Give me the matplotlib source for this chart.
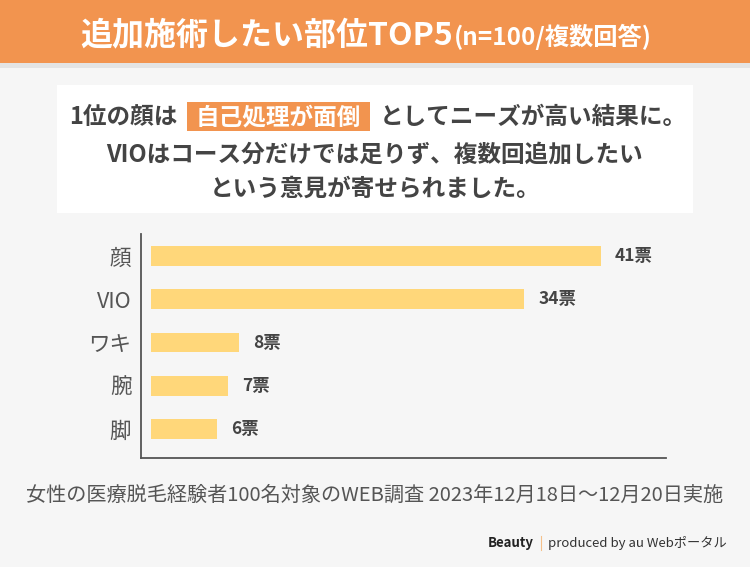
import matplotlib.pyplot as plt
from matplotlib.patches import Rectangle

plt.rcParams['font.family'] = ['Noto Sans CJK JP', 'DejaVu Sans']

# データ
parts = ['顔', 'VIO', 'ワキ', '腕', '脚']
votes = [41, 34, 8, 7, 6]
unit = '票'

title_main = '追加施術したい部位TOP5'
title_sub = '(n=100/複数回答)'
lead_before = '1位の顔は'
lead_mark = '自己処理が面倒'
lead_after = 'としてニーズが高い結果に。'
lead_2 = 'VIOはコース分だけでは足りず、複数回追加したい'
lead_3 = 'という意見が寄せられました。'
footnote = '女性の医療脱毛経験者100名対象のWEB調査 2023年12月18日～12月20日実施'
brand = 'Beauty'
credit = 'produced by au Webポータル'

orange = '#F2944F'
bar_color = '#FFD77A'
text_gray = '#444444'

fig = plt.figure(figsize=(7.5, 5.67), dpi=100)
fig.patch.set_facecolor('#F6F6F6')

# 背景用の軸 (1単位 = 1ピクセル)
bg = fig.add_axes([0, 0, 1, 1])
bg.set_xlim(0, 750)
bg.set_ylim(567, 0)
bg.axis('off')
bg.add_patch(Rectangle((0, 0), 750, 63, color=orange, lw=0))
bg.add_patch(Rectangle((0, 63), 750, 5, color='#E4E4E4', lw=0))
bg.add_patch(Rectangle((57, 85), 636, 128, color='white', lw=0))

renderer = fig.canvas.get_renderer()


def place_row(texts, xc, gaps):
    # テキストを横に並べて中央揃え
    widths = [t.get_window_extent(renderer).width for t in texts]
    total = sum(widths) + sum(gaps)
    x = xc - total / 2
    for i, (t, w) in enumerate(zip(texts, widths)):
        t.set_x(x)
        x += w + (gaps[i] if i < len(gaps) else 0)
    return widths


# タイトル
t1 = bg.text(0, 45, title_main, fontsize=23, fontweight='bold', color='white', va='baseline')
t2 = bg.text(0, 45, title_sub, fontsize=17.5, fontweight='bold', color='white', va='baseline')
place_row([t1, t2], 366, [1])

# リード文
s1 = bg.text(0, 117, lead_before, fontsize=17, fontweight='bold', color=text_gray, va='center')
s2 = bg.text(0, 117, lead_mark, fontsize=17, fontweight='bold', color='white', va='center', zorder=3)
s3 = bg.text(0, 117, lead_after, fontsize=17, fontweight='bold', color=text_gray, va='center')
w = place_row([s1, s2, s3], 378, [18, 18])
bg.add_patch(Rectangle((s2.get_position()[0] - 9, 102), w[1] + 18, 29, color=orange, lw=0, zorder=2))

bg.text(375, 154, lead_2, fontsize=17, fontweight='bold', color=text_gray, ha='center', va='center')
bg.text(375, 189, lead_3, fontsize=17, fontweight='bold', color=text_gray, ha='center', va='center')

# 注記
bg.text(375, 495, footnote, fontsize=14.5, color='#555555', ha='center', va='center')
bg.text(534, 543, brand, fontsize=9.5, fontweight='bold', color='#222222', ha='right', va='center')
bg.plot([541, 541], [536, 550], color='#F5C08A', lw=0.8)
bg.text(548, 543, credit, fontsize=9.5, color='#333333', ha='left', va='center')

# 棒グラフ
ax = fig.add_axes([141 / 750, 1 - 458 / 567, 525 / 750, 224 / 567])
ax.set_facecolor('none')
pos = list(range(len(parts)))
ax.barh(pos, votes, height=0.455, color=bar_color)
ax.set_xlim(-0.91, 46.9)
ax.set_ylim(4.67, -0.51)
for s in ['top', 'right']:
    ax.spines[s].set_visible(False)
for s in ['left', 'bottom']:
    ax.spines[s].set_color('#555555')
    ax.spines[s].set_linewidth(1.3)
ax.set_xticks([])
ax.set_yticks(pos, parts)
ax.tick_params(axis='y', length=0, pad=7, labelsize=15.5, labelcolor='#555555')

for p, v in zip(pos, votes):
    ax.annotate(f'{v}{unit}', (v, p), xytext=(10, 0), textcoords='offset points',
                va='center', ha='left', fontsize=12.5, fontweight='bold', color=text_gray)

fig.savefig('out.png', dpi=100, facecolor=fig.get_facecolor())
